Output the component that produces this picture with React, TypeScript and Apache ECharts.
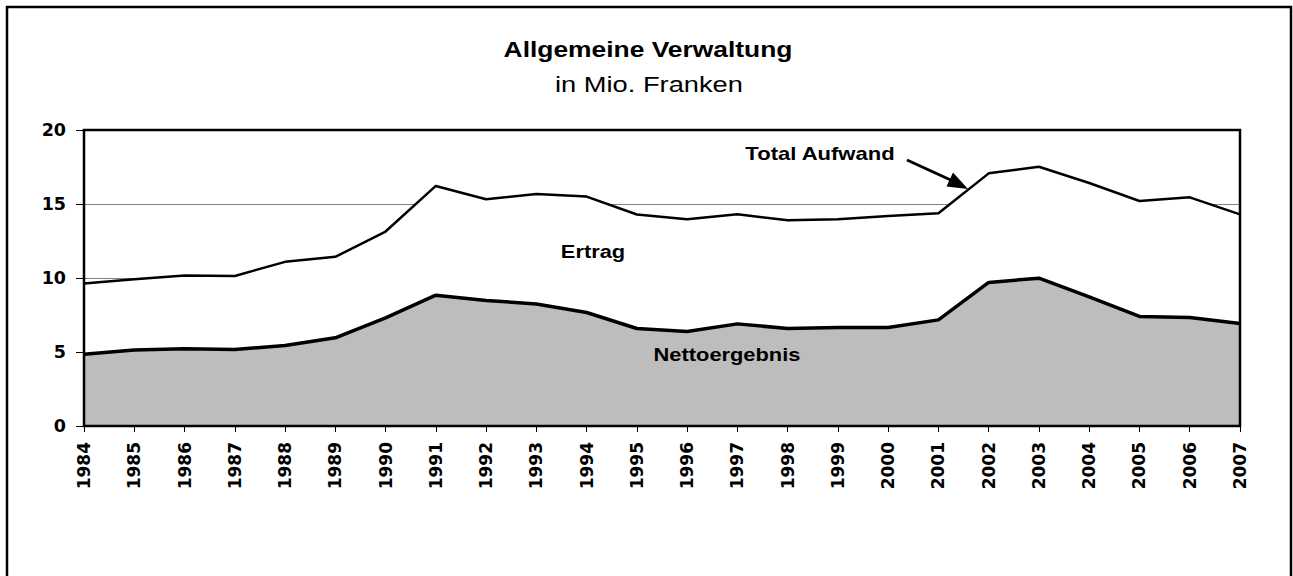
import React, { useEffect, useRef } from "react";
import * as echarts from "echarts";

const years = [
  "1984", "1985", "1986", "1987", "1988", "1989", "1990", "1991", "1992", "1993", "1994", "1995",
  "1996", "1997", "1998", "1999", "2000", "2001", "2002", "2003", "2004", "2005", "2006", "2007",
];
const totalAufwand = [
  9.63, 9.92, 10.17, 10.14, 11.09, 11.43, 13.14, 16.22, 15.32, 15.68, 15.5, 14.29,
  13.97, 14.3, 13.9, 13.97, 14.19, 14.37, 17.07, 17.52, 16.42, 15.2, 15.45, 14.3,
];
const nettoergebnis = [
  4.84, 5.13, 5.22, 5.17, 5.44, 5.96, 7.31, 8.84, 8.48, 8.25, 7.67, 6.59,
  6.39, 6.9, 6.59, 6.66, 6.66, 7.17, 9.7, 9.99, 8.73, 7.4, 7.33, 6.93,
];
const titleText = "Allgemeine Verwaltung";
const subtitleText = "in Mio. Franken";
const labelTotal = "Total Aufwand";
const labelErtrag = "Ertrag";
const labelNetto = "Nettoergebnis";

const TXT = "'Liberation Sans', Arial, sans-serif";
const AX = "'DejaVu Sans', sans-serif";

const GRID = { left: 84, right: 53, top: 130, bottom: 150 };

export default function App() {
  const ref = useRef<HTMLDivElement>(null);
  useEffect(() => {
    if (!ref.current) return;
    const chart = echarts.init(ref.current, undefined, { renderer: "svg" });
    const W = 1293;
    const H = 576;
    const plotW = W - GRID.left - GRID.right;
    const plotH = H - GRID.top - GRID.bottom;
    const labelText = (text: string, x: number, y: number, size: number, sx: number, bold: boolean) => ({
      type: "text",
      x,
      y,
      scaleX: sx,
      style: {
        text,
        fontFamily: TXT,
        fontWeight: bold ? "bold" : "normal",
        fontSize: size,
        fill: "#000",
        textAlign: "center",
        textVerticalAlign: "bottom",
      },
      z: 100,
    });
    chart.setOption({
      animation: false,
      backgroundColor: "#ffffff",
      grid: { ...GRID, show: false },
      xAxis: {
        type: "category",
        data: years,
        boundaryGap: false,
        axisLine: { lineStyle: { color: "#000", width: 2 } },
        axisTick: { show: true, length: 6, lineStyle: { color: "#000", width: 1 } },
        axisLabel: {
          rotate: 90,
          interval: 0,
          margin: 16,
          color: "#000",
          fontFamily: AX,
          fontWeight: "bold",
          fontSize: 17,
        },
        splitLine: { show: false },
      },
      yAxis: {
        type: "value",
        min: 0,
        max: 20,
        interval: 5,
        axisLine: { show: true, lineStyle: { color: "#000", width: 2 } },
        axisTick: { show: true, length: 8, lineStyle: { color: "#000", width: 1 } },
        axisLabel: {
          margin: 18,
          color: "#000",
          fontFamily: AX,
          fontWeight: "bold",
          fontSize: 17.5,
        },
        splitLine: { show: true, lineStyle: { color: "#808080", width: 1 } },
      },
      series: [
        {
          name: labelTotal,
          type: "line",
          data: totalAufwand,
          symbol: "none",
          lineStyle: { color: "#000", width: 2.5 },
          areaStyle: { color: "#ffffff", opacity: 1 },
          z: 3,
        },
        {
          name: labelNetto,
          type: "line",
          data: nettoergebnis,
          symbol: "none",
          lineStyle: { color: "#000", width: 3.5 },
          areaStyle: { color: "#bdbdbd", opacity: 1 },
          z: 4,
        },
      ],
      graphic: [
        {
          type: "rect",
          shape: { x: 7, y: 7, width: 1284, height: 600 },
          style: { fill: "none", stroke: "#000", lineWidth: 2.5 },
          z: 100,
        },
        {
          type: "rect",
          shape: { x: GRID.left, y: GRID.top, width: plotW, height: plotH },
          style: { fill: "none", stroke: "#000", lineWidth: 2.5 },
          z: 100,
        },
        labelText(titleText, 648, 60, 22, 1.2, true),
        labelText(subtitleText, 649, 95, 22, 1.24, false),
        labelText(labelTotal, 820, 163, 19, 1.16, true),
        labelText(labelErtrag, 593, 261, 19, 1.15, true),
        labelText(labelNetto, 727, 364, 19, 1.15, true),
        {
          type: "line",
          shape: { x1: 907, y1: 160, x2: 955, y2: 182 },
          style: { stroke: "#000", lineWidth: 3 },
          z: 100,
        },
        {
          type: "polygon",
          shape: { points: [[968, 189], [946.5, 186.5], [953, 172.5]] },
          style: { fill: "#000" },
          z: 100,
        },
      ],
    });
    return () => chart.dispose();
  }, []);
  return (
    <div
      ref={ref}
      style={{ position: "fixed", left: 0, top: 0, width: 1293, height: 576 }}
    />
  );
}
